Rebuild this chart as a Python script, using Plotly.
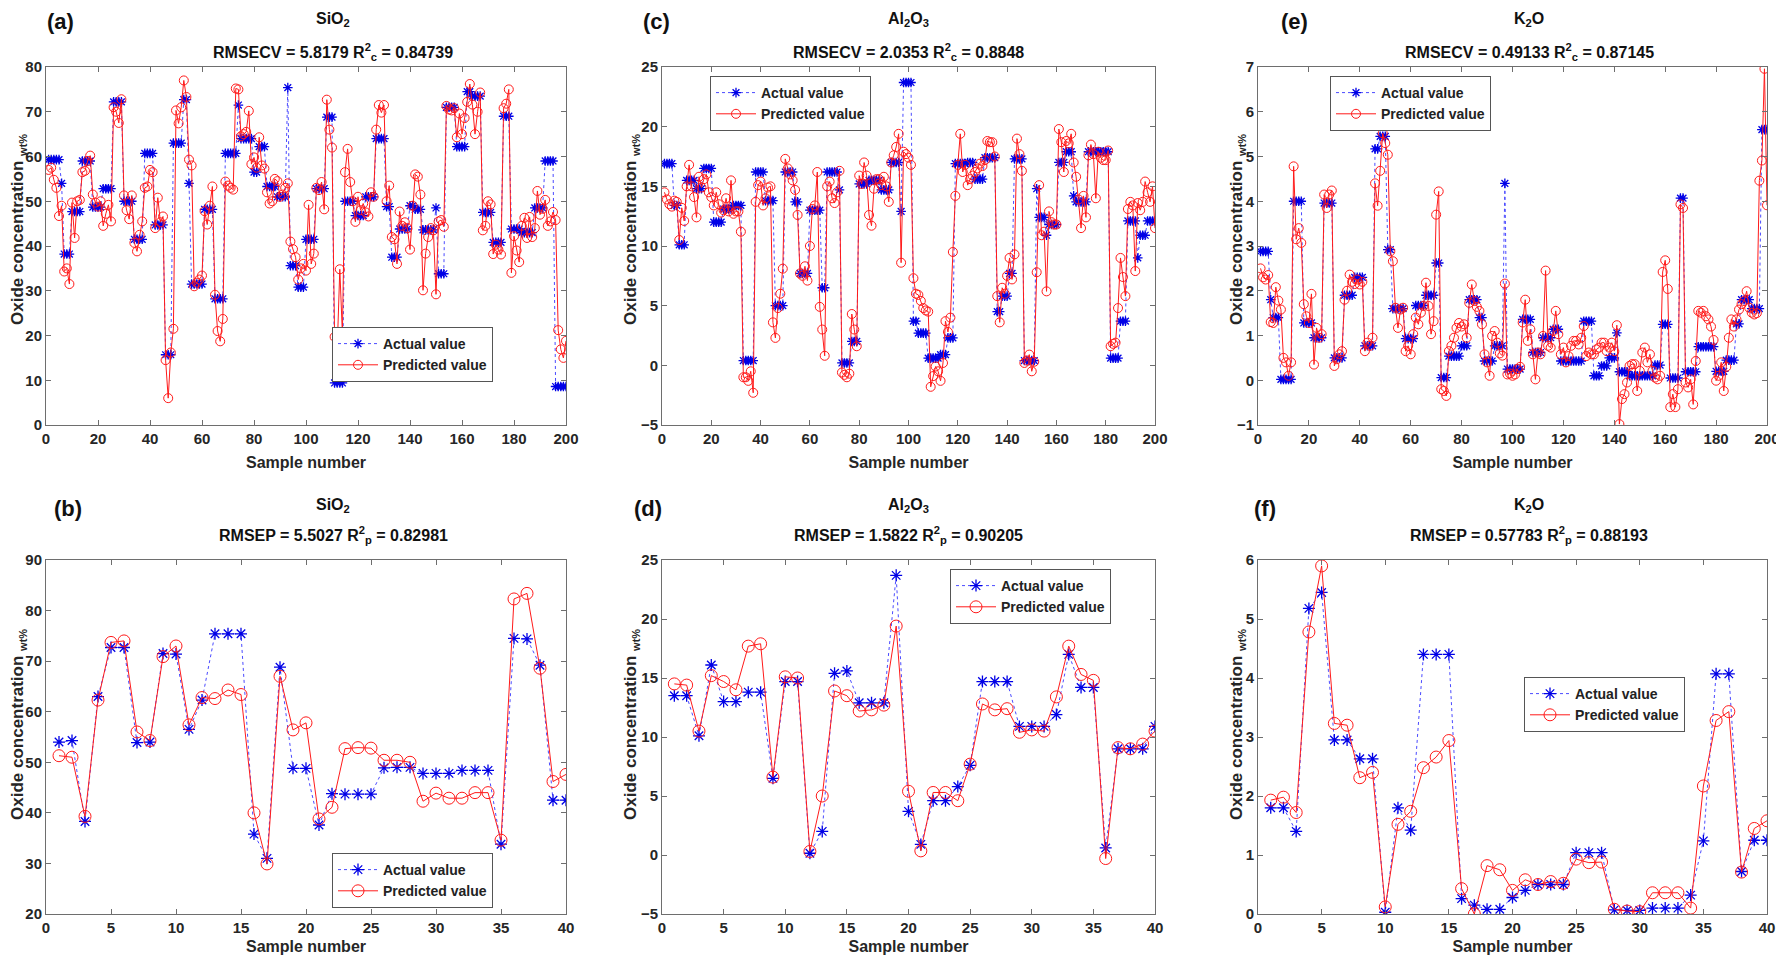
import plotly.graph_objects as go

# ---------------- data ----------------
samples_cal = list(range(1, 201))
samples_val = list(range(1, 41))

sio2_cal_actual = [
    59.3,59.3,59.3,59.3,59.3,54.0,38.2,38.2,38.2,47.7,
    47.7,47.7,47.7,59.0,59.0,59.0,59.0,48.7,48.7,48.7,
    48.7,52.8,52.8,52.8,52.8,72.2,72.2,72.2,72.2,50.0,
    50.0,50.0,50.0,41.5,41.5,41.5,41.5,60.7,60.7,60.7,
    60.7,44.7,44.7,44.7,44.7,15.7,15.7,15.7,63.0,63.0,
    63.0,63.0,72.7,72.7,54.0,31.5,31.5,31.5,31.5,31.5,
    48.2,48.2,48.2,48.2,28.2,28.2,28.2,28.2,60.7,60.7,
    60.7,60.7,60.7,71.5,64.0,64.0,64.0,64.0,64.0,56.5,
    56.5,62.2,62.2,62.2,53.3,53.3,53.3,53.3,51.0,51.0,
    51.0,51.0,75.4,35.6,35.6,35.6,30.8,30.8,30.8,41.5,
    41.5,41.5,41.5,52.8,52.8,52.8,52.8,68.8,68.8,68.8,
    9.4,9.4,9.4,9.4,50.0,50.0,50.0,50.0,46.8,46.8,
    46.8,46.8,51.0,51.0,51.0,51.0,64.0,64.0,64.0,64.0,
    48.8,48.8,37.5,37.5,37.5,43.8,43.8,43.8,43.8,49.0,
    49.0,48.2,48.2,48.2,43.6,43.6,43.6,43.6,43.6,48.5,
    33.8,33.8,33.8,71.0,71.0,71.0,71.0,62.2,62.2,62.2,
    62.2,74.5,74.5,73.5,73.5,73.5,73.5,47.5,47.5,47.5,
    47.5,40.8,40.8,40.8,40.8,69.0,69.0,69.0,43.8,43.8,
    43.8,43.8,43.0,43.0,43.0,43.0,43.0,48.5,48.5,48.5,
    48.5,59.0,59.0,59.0,59.0,8.6,8.6,8.6,8.6,8.6]
sio2_cal_pred = [
    57.0,57.5,54.8,53.0,46.7,49.0,34.3,35.0,31.5,49.7,
    41.8,50.0,50.3,56.5,56.8,59.0,60.2,51.5,49.7,48.8,
    50.0,44.5,47.2,49.2,45.5,71.0,70.0,67.5,72.8,51.3,
    48.0,46.0,51.3,40.7,38.8,42.5,45.5,53.0,53.3,57.0,
    56.5,44.0,50.8,45.3,46.6,14.5,6.0,16.2,21.5,70.3,
    67.4,71.0,77.0,73.3,59.3,58.0,31.0,31.8,32.5,33.4,
    47.8,44.8,49.0,53.3,29.1,21.0,18.7,23.7,54.4,53.5,
    53.0,52.6,75.2,75.0,64.5,65.0,65.5,70.2,58.3,59.8,
    57.5,64.3,58.0,57.3,52.0,49.5,50.0,55.0,54.5,51.0,
    51.5,53.0,54.0,41.0,39.3,37.5,32.5,35.0,36.0,34.5,
    49.2,36.0,38.3,53.0,52.5,54.3,48.2,72.7,66.0,62.0,
    19.7,16.8,34.8,20.3,56.5,61.7,54.3,50.0,45.4,51.0,
    48.0,49.5,47.5,46.6,52.0,51.0,66.0,71.5,69.8,71.5,
    50.0,53.5,42.0,41.5,36.0,47.7,44.5,45.3,44.0,39.2,
    49.0,56.0,55.5,51.5,30.1,38.3,42.0,44.0,43.5,29.2,
    45.5,45.8,44.3,71.3,70.5,70.3,70.8,64.3,69.6,65.0,
    68.6,72.2,76.2,71.6,65.0,70.0,74.3,43.5,44.5,50.0,
    49.3,38.2,40.3,39.2,38.1,70.8,71.8,75.0,34.0,42.2,
    39.0,36.4,44.5,46.3,41.8,46.5,42.0,44.0,52.3,47.0,
    48.3,50.3,44.5,45.5,47.6,45.8,21.2,16.9,15.0,18.8]

al2o3_cal_actual = [
    16.9,16.9,16.9,16.9,13.4,13.4,10.1,10.1,10.1,15.5,
    15.5,15.5,15.5,14.8,14.8,14.8,16.5,16.5,16.5,16.5,
    12.0,12.0,12.0,12.0,13.1,13.1,13.1,13.1,13.4,13.4,
    13.4,13.4,0.4,0.4,0.4,0.4,0.4,16.2,16.2,16.2,
    16.2,13.8,13.8,13.8,13.8,5.0,5.0,5.0,5.0,16.2,
    16.2,16.2,16.2,13.7,13.7,7.7,7.7,7.7,7.7,13.0,
    13.0,13.0,13.0,13.0,6.5,6.5,16.2,16.2,16.2,16.2,
    16.2,14.7,0.2,0.2,0.2,0.2,2.0,2.0,2.0,15.2,
    15.2,15.2,15.2,15.5,15.5,15.5,15.5,15.5,14.7,14.7,
    14.7,14.7,17.0,17.0,17.0,17.0,12.9,23.7,23.7,23.7,
    23.7,3.7,3.7,2.7,2.7,2.7,2.7,0.6,0.6,0.6,
    0.6,0.6,0.9,0.9,0.9,2.3,2.3,2.3,16.9,16.9,
    16.9,16.9,16.9,17.0,17.0,17.0,15.6,15.6,15.6,15.6,
    17.4,17.4,17.4,17.4,17.4,4.5,4.5,5.8,5.8,5.8,
    7.7,7.7,17.3,17.3,17.3,17.3,0.4,0.4,0.4,0.4,
    0.4,14.8,12.4,12.4,12.4,10.9,11.8,11.8,11.8,11.8,
    17.0,17.0,17.0,17.9,17.9,17.9,14.2,13.7,13.7,13.7,
    13.7,13.7,17.9,17.9,17.9,17.9,17.9,17.9,17.9,17.9,
    17.9,0.6,0.6,0.6,0.6,3.7,3.7,3.7,12.1,12.1,
    12.1,12.1,9.0,10.9,10.9,10.9,12.1,12.1,12.1,12.1]
al2o3_cal_pred = [
    14.5,13.9,13.5,13.3,13.8,13.7,10.5,13.2,12.1,15.0,
    16.8,15.0,14.1,12.4,15.8,14.9,15.6,16.0,14.5,14.1,
    13.4,14.5,13.5,12.8,13.0,14.0,12.9,15.5,12.7,12.9,
    12.9,11.2,-1.0,-1.0,-1.3,-0.5,-2.3,13.7,15.1,15.4,
    13.4,14.0,14.9,15.0,3.6,2.3,4.8,6.0,8.1,17.3,
    16.5,16.0,15.5,14.7,12.6,7.7,7.5,8.3,7.1,10.0,
    13.1,13.4,16.2,4.9,3.0,0.8,15.0,15.4,14.0,13.6,
    14.5,16.3,-0.6,-0.8,-1.0,-0.7,4.3,3.0,1.6,15.9,
    15.2,17.0,15.9,12.6,11.7,14.8,15.6,15.6,15.1,15.8,
    15.0,13.7,17.0,17.6,18.3,19.4,8.6,17.9,17.7,17.4,
    16.8,7.3,6.0,5.9,5.4,4.8,4.6,4.5,-1.8,-0.9,
    -0.1,-0.5,-1.3,0.2,3.7,2.8,4.0,9.5,14.2,16.8,
    19.4,16.2,16.8,15.1,15.6,15.9,16.2,16.5,16.9,16.7,
    17.2,18.8,18.7,18.7,17.5,5.8,3.6,6.5,6.0,7.5,
    9.0,7.2,9.3,19.0,17.7,16.3,0.2,0.4,0.9,-0.5,
    0.3,7.8,15.1,10.9,11.2,6.2,12.9,12.0,11.8,11.8,
    19.8,18.7,16.2,18.8,18.6,19.4,17.0,15.8,13.9,11.5,
    14.2,12.4,17.6,18.5,17.7,14.0,17.9,17.4,17.2,17.2,
    18.0,1.6,1.8,1.9,4.8,9.0,7.4,5.8,13.1,13.7,
    13.4,7.9,13.6,13.0,13.7,15.4,14.5,13.7,15.0,11.5]

k2o_cal_actual = [
    2.88,2.88,2.88,2.88,1.80,1.40,1.40,1.40,0.02,0.02,
    0.02,0.02,0.02,4.00,4.00,4.00,4.00,1.28,1.28,1.28,
    1.28,0.95,0.95,0.95,0.95,3.96,3.96,3.96,3.96,0.50,
    0.50,0.50,0.50,1.90,1.90,1.90,1.90,2.30,2.30,2.30,
    2.30,0.77,0.77,0.77,0.77,5.17,5.17,5.45,5.45,5.45,
    2.92,2.92,1.60,1.60,1.60,1.60,1.60,0.93,0.93,0.93,
    0.93,1.67,1.67,1.67,1.67,1.90,1.90,1.90,1.90,2.62,
    2.62,0.06,0.06,0.06,0.54,0.54,0.54,0.54,0.54,0.77,
    0.77,0.77,1.80,1.80,1.80,1.80,1.40,1.40,0.43,0.43,
    0.43,0.43,0.77,0.77,0.77,0.77,4.40,0.25,0.25,0.25,
    0.25,0.25,0.25,1.36,1.36,1.36,1.36,0.62,0.62,0.62,
    0.62,0.95,0.95,0.95,0.95,1.14,1.14,1.14,0.43,0.43,
    0.43,0.43,0.43,0.43,0.43,0.43,0.43,1.32,1.32,1.32,
    1.32,0.10,0.10,0.10,0.32,0.32,0.32,0.50,0.50,0.50,
    1.06,0.19,0.19,0.19,0.19,0.10,0.10,0.10,0.10,0.10,
    0.10,0.10,0.10,0.10,0.10,0.34,0.34,0.34,1.25,1.25,
    1.25,0.05,0.05,0.05,0.05,4.07,4.07,0.19,0.19,0.19,
    0.19,0.19,0.75,0.75,0.75,0.75,0.75,0.75,0.75,0.20,
    0.20,0.20,0.20,0.45,0.45,0.45,0.45,1.26,1.26,1.80,
    1.80,1.80,1.80,1.60,1.60,1.60,1.60,5.60,5.60,5.60]
k2o_cal_pred = [
    2.50,2.30,2.25,2.35,1.30,1.28,2.08,1.78,1.58,0.50,
    0.40,0.10,0.40,4.78,3.15,3.40,3.07,1.70,1.43,1.28,
    1.93,0.35,1.17,0.95,1.03,4.15,3.85,4.15,4.24,0.32,
    0.47,0.58,0.65,1.80,2.00,2.36,2.20,2.15,2.25,2.14,
    2.20,0.65,0.84,0.77,0.95,4.40,3.90,4.68,5.52,5.30,
    5.04,2.88,2.66,1.62,1.17,1.58,1.62,0.65,0.77,0.58,
    1.03,1.40,1.25,1.51,1.66,2.18,1.66,1.03,1.32,3.70,
    4.22,-0.20,-0.24,-0.35,0.65,0.77,0.95,1.17,1.28,1.20,
    1.25,0.95,1.73,2.14,1.77,1.64,1.55,1.25,0.58,0.40,
    0.10,0.99,1.10,0.84,0.60,0.55,2.16,0.13,0.15,0.10,
    0.13,0.25,0.30,1.29,1.80,0.88,1.14,0.58,0.02,0.62,
    0.58,0.99,2.45,0.77,0.73,1.10,1.55,1.03,0.58,0.73,
    0.40,0.54,0.77,0.88,0.88,0.80,0.95,1.21,0.54,0.62,
    0.58,0.58,0.69,0.73,0.84,0.84,0.65,0.73,0.84,0.65,
    1.23,-0.98,-0.42,-0.31,-0.05,0.32,0.36,0.36,-0.24,0.21,
    0.62,0.73,0.40,0.58,0.21,0.06,0.02,0.10,2.42,2.68,
    2.04,-0.60,-0.31,-0.60,-0.20,3.93,3.85,-0.05,-0.16,0.02,
    -0.54,0.43,1.55,1.51,1.55,1.43,1.36,1.20,0.90,-0.01,
    0.10,0.40,-0.24,0.30,0.95,1.36,1.20,1.36,1.58,1.70,
    1.77,1.99,1.62,1.51,1.47,1.50,4.46,4.91,6.96,3.91]

sio2_val_actual = [54.0,54.3,38.3,63.0,72.7,72.7,53.9,54.0,71.5,71.4,
                   56.5,62.3,75.4,75.4,75.4,35.8,31.0,68.8,48.8,48.8,
                   37.6,43.8,43.7,43.7,43.7,48.9,49.0,49.0,47.8,47.8,
                   47.8,48.4,48.4,48.4,33.8,74.5,74.4,69.2,42.5,42.5]
sio2_val_pred = [51.3,51.0,39.3,62.3,73.7,74.0,56.0,54.3,70.9,73.0,
                 57.4,62.8,62.6,64.3,63.4,40.0,29.9,67.0,56.4,57.8,
                 38.8,41.1,52.7,52.9,52.8,50.4,50.4,50.0,42.3,43.9,
                 42.9,42.9,44.0,44.0,34.6,82.3,83.4,68.6,46.2,47.6]

al2o3_val_actual = [13.5,13.5,10.1,16.1,13.0,13.0,13.8,13.8,6.5,14.7,
                    14.7,0.15,2.0,15.4,15.6,12.9,12.9,12.9,23.7,3.7,
                    0.9,4.6,4.6,5.8,7.6,14.7,14.7,14.7,10.9,10.9,
                    10.9,11.9,17.0,14.2,14.2,0.6,9.0,9.0,9.0,10.9]
al2o3_val_pred = [14.5,14.4,10.5,15.2,14.7,14.0,17.7,17.9,6.6,15.1,
                  15.0,0.3,5.0,13.9,13.5,12.2,12.3,12.7,19.4,5.4,
                  0.35,5.3,5.3,4.6,7.7,12.8,12.3,12.4,10.4,10.6,
                  10.5,13.4,17.7,15.3,14.8,-0.3,9.1,9.0,9.4,10.5]

k2o_val_actual = [1.80,1.80,1.40,5.18,5.45,2.95,2.95,2.63,2.63,0.03,
                  1.80,1.42,4.40,4.40,4.40,0.26,0.15,0.08,0.08,0.28,
                  0.40,0.50,0.50,0.50,1.04,1.04,1.04,0.07,0.06,0.06,
                  0.10,0.10,0.10,0.32,1.24,4.07,4.07,0.72,1.25,1.25]
k2o_val_pred = [1.93,1.98,1.72,4.78,5.90,3.23,3.20,2.31,2.40,0.12,
                1.52,1.74,2.48,2.66,2.94,0.43,0.00,0.82,0.75,0.40,
                0.58,0.50,0.55,0.52,0.93,0.87,0.88,0.08,0.05,0.04,
                0.36,0.36,0.36,0.10,2.17,3.28,3.43,0.71,1.45,1.58]

panel_labels = ["(a)", "(c)", "(e)", "(b)", "(d)", "(f)"]
oxide_titles = ["SiO<sub>2</sub>", "Al<sub>2</sub>O<sub>3</sub>", "K<sub>2</sub>O",
                "SiO<sub>2</sub>", "Al<sub>2</sub>O<sub>3</sub>", "K<sub>2</sub>O"]
stat_titles = ["RMSECV = 5.8179 R<sup>2</sup><sub>c</sub> = 0.84739",
               "RMSECV = 2.0353 R<sup>2</sup><sub>c</sub> = 0.8848",
               "RMSECV = 0.49133 R<sup>2</sup><sub>c</sub> = 0.87145",
               "RMSEP = 5.5027 R<sup>2</sup><sub>p</sub> = 0.82981",
               "RMSEP = 1.5822 R<sup>2</sup><sub>p</sub> = 0.90205",
               "RMSEP = 0.57783 R<sup>2</sup><sub>p</sub> = 0.88193"]
legend_names = ["Actual value", "Predicted value"]
x_label = "Sample number"
y_label = "Oxide concentration <sub><span style='font-size:11px'>wt%</span></sub>"

# ---------------- layout geometry (pixels) ----------------
W, H = 1784, 966
FONT = "Liberation Sans, Arial, sans-serif"
col_px = [(38, 558), (654, 1147), (1250, 1759)]
row_px = [(59, 417), (552, 906)]
title_shift = [(47, 15), (55, 25)]          # (line1, line2) px above plot top
title_dx = [27, 0, 17, 27, 0, 17]           # horizontal offset of titles from plot centre
xlabel_standoff = [10, 5]
label_px = [(52, 14), (648, 14), (1286, 14), (60, 500), (640, 500), (1257, 500)]
# legend anchor: (x px, y px, anchor) -- anchor says whether y is the box top or bottom
legend_px = [(324, 374, "bottom"), (702, 68, "top"), (1322, 68, "top"),
             (324, 900, "bottom"), (942, 561, "top"), (1516, 669, "top")]
ytitle_x = [11, 624, 1230, 11, 624, 1230]
ytitle_shift = [16, 16, 16, 12, 12, 12]

def xdom(c):
    return [col_px[c][0] / W, col_px[c][1] / W]

def ydom(r):
    t, b = row_px[r]
    return [1 - b / H, 1 - t / H]

panels = [
    dict(x=samples_cal, act=sio2_cal_actual, pred=sio2_cal_pred, xr=[0, 200], xd=20, yr=[0, 80], yd=10),
    dict(x=samples_cal, act=al2o3_cal_actual, pred=al2o3_cal_pred, xr=[0, 200], xd=20, yr=[-5, 25], yd=5),
    dict(x=samples_cal, act=k2o_cal_actual, pred=k2o_cal_pred, xr=[0, 200], xd=20, yr=[-1, 7], yd=1),
    dict(x=samples_val, act=sio2_val_actual, pred=sio2_val_pred, xr=[0, 40], xd=5, yr=[20, 90], yd=10),
    dict(x=samples_val, act=al2o3_val_actual, pred=al2o3_val_pred, xr=[0, 40], xd=5, yr=[-5, 25], yd=5),
    dict(x=samples_val, act=k2o_val_actual, pred=k2o_val_pred, xr=[0, 40], xd=5, yr=[0, 6], yd=1),
]

fig = go.Figure()
annotations = []
for i, p in enumerate(panels):
    r, c = divmod(i, 3)
    k = i + 1
    xa = "x" if k == 1 else f"x{k}"
    ya = "y" if k == 1 else f"y{k}"
    lg = "legend" if k == 1 else f"legend{k}"
    msize_star = 8 if r == 0 else 10
    msize_circ = 9 if r == 0 else 12
    fig.add_trace(go.Scatter(
        x=p["x"], y=p["act"], name=legend_names[0], xaxis=xa, yaxis=ya, legend=lg,
        mode="lines+markers",
        line=dict(color="#4a4aff", width=1, dash="dot"),
        marker=dict(symbol="asterisk-open", size=msize_star, color="#0000e6",
                    line=dict(color="#0000e6", width=1.3)),
    ))
    fig.add_trace(go.Scatter(
        x=p["x"], y=p["pred"], name=legend_names[1], xaxis=xa, yaxis=ya, legend=lg,
        mode="lines+markers",
        line=dict(color="#ff1a1a", width=1),
        marker=dict(symbol="circle-open", size=msize_circ, color="#ff1a1a",
                    line=dict(color="#ff1a1a", width=1)),
    ))
    axcommon = dict(showline=True, linecolor="#6e6e6e", linewidth=1, mirror="ticks",
                    ticks="inside", ticklen=5, tickcolor="#6e6e6e", showgrid=False,
                    zeroline=False,
                    tickfont=dict(family=FONT, size=15, color="#262626", weight="bold"))
    xd = xdom(c)
    yd = ydom(r)
    fig.layout[("xaxis" if k == 1 else f"xaxis{k}")] = dict(
        axcommon, domain=xd, anchor=ya,
        range=p["xr"], tick0=0, dtick=p["xd"], automargin=False,
        title=dict(text=x_label, font=dict(family=FONT, size=16, color="#262626", weight="bold"),
                   standoff=xlabel_standoff[r]))
    fig.layout[("yaxis" if k == 1 else f"yaxis{k}")] = dict(
        axcommon, domain=yd, anchor=xa, range=p["yr"], tick0=p["yr"][0], dtick=p["yd"],
        automargin=False)
    annotations.append(dict(xref="paper", yref="paper", x=ytitle_x[i] / W, y=(yd[0] + yd[1]) / 2,
                            yshift=ytitle_shift[i], textangle=-90, text=y_label, showarrow=False,
                            xanchor="center", yanchor="middle",
                            font=dict(family=FONT, size=17, color="#262626", weight="bold")))
    lpx, lpy, lanchor = legend_px[i]
    fig.layout[lg] = dict(x=lpx / W, y=1 - lpy / H, xanchor="left", yanchor=lanchor,
                          bgcolor="white", bordercolor="#555555", borderwidth=1,
                          font=dict(family=FONT, size=14, color="#222222", weight="bold"),
                          itemwidth=40, tracegroupgap=0)
    cx = (xd[0] + xd[1]) / 2 + title_dx[i] / W
    s1, s2 = title_shift[r]
    annotations.append(dict(xref="paper", yref="paper", x=cx, y=yd[1], yshift=s1,
                            text=oxide_titles[i], showarrow=False, xanchor="center", yanchor="middle",
                            font=dict(family=FONT, size=16, color="#111111", weight="bold")))
    annotations.append(dict(xref="paper", yref="paper", x=cx, y=yd[1], yshift=s2,
                            text=stat_titles[i], showarrow=False, xanchor="center", yanchor="middle",
                            font=dict(family=FONT, size=16, color="#111111", weight="bold")))
    px_, py_ = label_px[i]
    annotations.append(dict(xref="paper", yref="paper", x=px_ / W, y=1 - py_ / H,
                            text=panel_labels[i], showarrow=False, xanchor="center", yanchor="middle",
                            font=dict(family=FONT, size=22, color="#111111", weight="bold")))

fig.update_layout(
    width=W, height=H,
    margin=dict(l=0, r=0, t=0, b=0),
    paper_bgcolor="white", plot_bgcolor="white",
    annotations=annotations,
    font=dict(family=FONT),
)
fig.write_html("out.html")
